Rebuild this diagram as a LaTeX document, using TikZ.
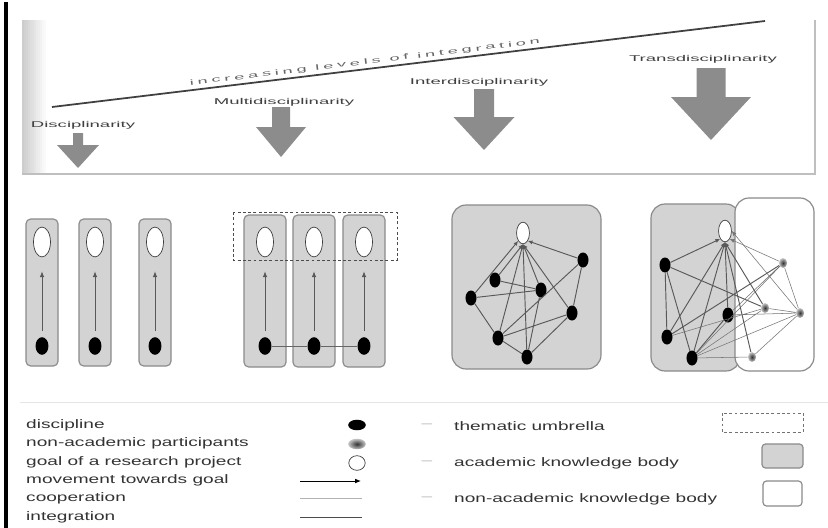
\documentclass[tikz,border=0pt]{standalone}
\usepackage{fontspec}
\setmainfont{Liberation Sans}
\newfontfamily\widefont[FakeStretch=1.55]{Liberation Sans}
\newfontfamily\headfont[FakeStretch=2.2]{Liberation Sans}
\newfontfamily\trendfont[FakeStretch=2.4, LetterSpace=50]{Liberation Sans}
\usetikzlibrary{shapes.geometric,arrows.meta}

\definecolor{boxgray}{HTML}{D3D3D3}
\definecolor{edgegray}{HTML}{8A8A8A}
\definecolor{arrowgray}{HTML}{8C8C8C}
\definecolor{txtgray}{HTML}{333333}

\tikzset{
  goal/.style={ellipse, draw=black!75, fill=white, line width=0.6pt, minimum width=14.5pt, minimum height=25.5pt, inner sep=0pt},
  goalsm/.style={goal, minimum width=11pt, minimum height=18.5pt},
  disc/.style={ellipse, fill=black, minimum width=11pt, minimum height=15pt, inner sep=0pt},
  discsm/.style={disc, minimum width=9.4pt, minimum height=12.8pt},
  partic/.style={ellipse, inner color=black!80, outer color=gray!45, minimum width=7pt, minimum height=8.5pt, inner sep=0pt},
  discbox/.style={draw=edgegray, fill=boxgray, line width=1pt, rounded corners=4pt},
  knowbox/.style={draw=edgegray, line width=1pt, rounded corners=12pt},
  umbrella/.style={draw=black!70, dashed, dash pattern=on 2.5pt off 2pt, line width=0.8pt},
  move/.style={draw=gray!70!black, line width=0.7pt, -{Latex[length=5pt,width=4pt]}},
  integ/.style={draw=black!65, line width=0.8pt},
  coop/.style={draw=gray!75, line width=0.45pt},
  lbl/.style={anchor=west, inner sep=0pt, text=txtgray, font=\widefont\fontsize{10.5}{12}\selectfont},
  head/.style={inner sep=0pt, text=black!75, font=\headfont\fontsize{7.2}{8}\selectfont}
}

\begin{document}
\begin{tikzpicture}[x=0.03cm, y=-0.03cm]
\useasboundingbox (0,0) rectangle (828,528);

% left bar
\draw[line width=2.6pt] (6,2) -- (6,528);

% top panel
\foreach \k in {0,...,11}
  \fill[black!\the\numexpr 20-\k*5/3\relax] ({22+\k*2},20) rectangle ({24+\k*2},174);
\draw[gray!50, line width=1.4pt] (22,174) -- (815,174) -- (815,20);

% increasing levels of integration
\coordinate (ts) at (52,107);
\coordinate (te) at (765,21);
\draw[black!75, line width=1.5pt] (ts) -- node[pos=0.44, sloped, above=2pt, inner sep=0pt, text=black!60, font=\trendfont\fontsize{6.5}{7}\selectfont] (trend) {increasing levels of integration} (te);

% block arrows
\foreach \cx/\ty/\sw/\hy/\hw/\tip in {78/133/10/145/42/168, 281/107/18/127/50/157, 484/89/20/117/61/150, 711/68/29/97/80/140}
  \fill[arrowgray] ({\cx-\sw/2},\ty) -- ({\cx+\sw/2},\ty) -- ({\cx+\sw/2},\hy) -- ({\cx+\hw/2},\hy)
    -- (\cx,\tip) -- ({\cx-\hw/2},\hy) -- ({\cx-\sw/2},\hy) -- cycle;

\node[head] (disc) at (83,125) {Disciplinarity};
\node[head] (multi) at (284,102) {Multidisciplinarity};
\node[head] (inter) at (479,82) {Interdisciplinarity};
\node[head] (trans) at (703,59) {Transdisciplinarity};

% disciplinarity
\foreach \x [count=\i] in {42,95,155} {
  \draw[discbox] ({\x-16},219) rectangle ({\x+16},366);
  \node[goal] (dg\i) at (\x,242) {};
  \node[disc] (dd\i) at (\x,346) {};
  \draw[move, shorten >=12pt, shorten <=5pt] (dd\i) -- (dg\i);
}

% multidisciplinarity
\foreach \x [count=\i] in {265,314,364} {
  \draw[discbox] ({\x-21},215) rectangle ({\x+21},367);
  \node[goal] (mg\i) at (\x,242) {};
  \node[disc] (md\i) at (\x,346) {};
  \draw[move, shorten >=12pt, shorten <=5pt] (md\i) -- (mg\i);
}
\draw[umbrella] (233,212) rectangle (397,260);
\draw[coop, draw=black!60, line width=0.6pt] (md1) -- (md2) -- (md3);

% interdisciplinarity
\draw[knowbox, fill=boxgray] (452,205) rectangle (601,369);
\node[goalsm] (ig) at (523,233) {};
\node[discsm] (i1) at (583,260) {};
\node[discsm] (i2) at (495,280) {};
\node[discsm] (i3) at (541,290) {};
\node[discsm] (i4) at (471,298) {};
\node[discsm] (i5) at (572,313) {};
\node[discsm] (i6) at (498,338) {};
\node[discsm] (i7) at (527,357) {};
\draw[integ] (i4) -- (i3) (i2) -- (i3) (i4) -- (i6) (i6) -- (i7) (i6) -- (i1)
  (i6) -- (i5) (i7) -- (i5) (i1) -- (i5) (i3) -- (i7);
\foreach \n in {i2,i3,i5,i6,i7}
  \draw[integ, -{Latex[length=4pt,width=3.5pt]}] (\n) -- (ig.south);
\draw[integ, -{Latex[length=4pt,width=3.5pt]}] (i4) -- (ig.south west);
\draw[integ, -{Latex[length=4pt,width=3.5pt]}] (i1) -- (ig.south east);

% transdisciplinarity
\draw[knowbox, fill=boxgray] (651,204) rectangle (740,371);
\draw[knowbox, fill=white] (735,198) rectangle (814,371);
\node[goalsm] (tg) at (725,231) {};
\node[discsm] (t1) at (665,265) {};
\node[discsm] (t2) at (728,315) {};
\node[discsm] (t3) at (667,337) {};
\node[discsm] (t4) at (692,358) {};
\node[partic] (t5) at (783,263) {};
\node[partic] (t6) at (765,308) {};
\node[partic] (t7) at (800,313) {};
\node[partic] (t8) at (752,357) {};
\draw[integ] (t1) -- (t3) (t1) -- (t6) (t3) -- (t5) (t4) -- (t2) (t1) -- (t4);
\draw[coop, draw=black!55] (t4) -- (t5) (t4) -- (t6) (t4) -- (t7) (t5) -- (t7)
  (t6) -- (t7) (t8) -- (t7) (t2) -- (t7) (t3) -- (t6) (t4) -- (t8) (t2) -- (t5);
\foreach \n in {t2,t3,t4,t6,t8}
  \draw[integ, -{Latex[length=4pt,width=3.5pt]}] (\n) -- (tg.south);
\draw[integ, -{Latex[length=4pt,width=3.5pt]}] (t1) -- (tg.south west);
\draw[coop, draw=black!55, -{Latex[length=4pt,width=3.5pt]}] (t5) -- (tg.south east);
\draw[coop, draw=black!55, -{Latex[length=4pt,width=3.5pt]}] (t7) -- (tg.east);

% legend
\draw[gray!20] (20,402) -- (828,402);
\node[lbl] (ldisc) at (26,425) {discipline};
\node[lbl] (lpart) at (26,443) {non-academic participants};
\node[lbl] (lgoal) at (26,462) {goal of a research project};
\node[lbl] (lmove) at (26,480) {movement towards goal};
\node[lbl] (lcoop) at (26,498) {cooperation};
\node[lbl] (linteg) at (26,517) {integration};

\node[disc, minimum width=15pt, minimum height=9pt] (sdisc) at (357,425) {};
\node[partic, minimum width=15pt, minimum height=9pt] (spart) at (357,444) {};
\node[goal, minimum width=14pt, minimum height=12.5pt] (sgoal) at (357,463) {};
\coordinate (am1) at (300,481); \coordinate (am2) at (361,481);
\draw[move, draw=black] (am1) -- (am2);
\coordinate (ac1) at (300,498); \coordinate (ac2) at (362,498);
\draw[coop, draw=gray!60] (ac1) -- (ac2);
\coordinate (ai1) at (300,517); \coordinate (ai2) at (362,517);
\draw[integ, draw=black!70] (ai1) -- (ai2);

\foreach \y in {426,463,499}
  \node[text=gray!55, inner sep=0pt, font=\widefont\fontsize{10.5}{12}\selectfont] at (427,\y) {–};
\node[lbl] (lumb) at (454,426) {thematic umbrella};
\node[lbl] (lacad) at (454,463) {academic knowledge body};
\node[lbl] (lnon) at (454,499) {non-academic knowledge body};
\draw[umbrella, draw=black!55, line width=0.6pt] (722,413) rectangle (803,432);
\draw[discbox, rounded corners=3pt] (762,444) rectangle (803,468);
\draw[discbox, fill=white, rounded corners=3pt] (763,481) rectangle (802,506);
\end{tikzpicture}
\end{document}
